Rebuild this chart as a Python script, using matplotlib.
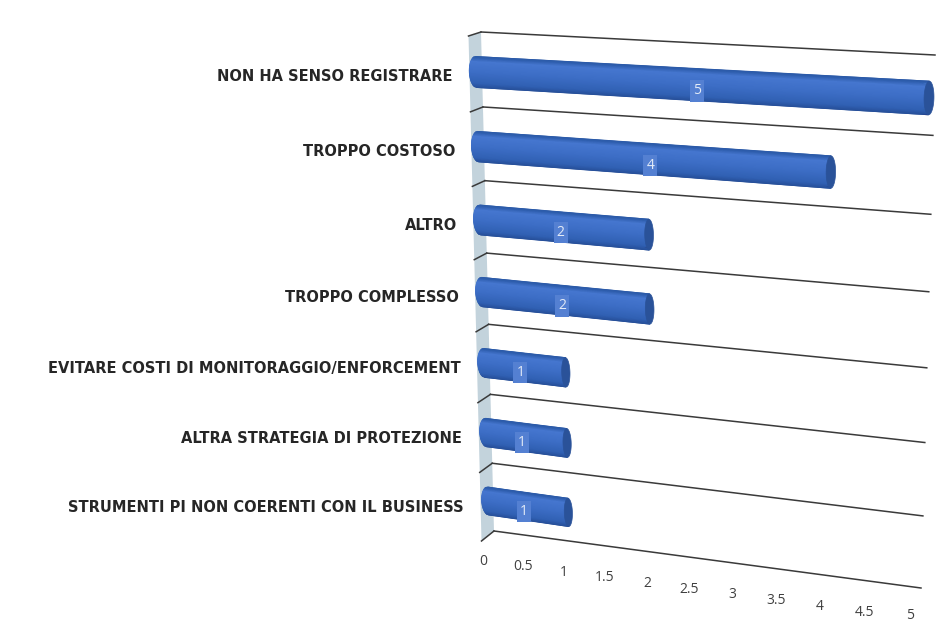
import numpy as np
import matplotlib
matplotlib.use("Agg")
import matplotlib.pyplot as plt
from matplotlib.colors import LinearSegmentedColormap
from matplotlib.transforms import Transform

# bottom row first, like the category axis
categories = ["STRUMENTI PI NON COERENTI CON IL BUSINESS",
              "ALTRA STRATEGIA DI PROTEZIONE",
              "EVITARE COSTI DI MONITORAGGIO/ENFORCEMENT",
              "TROPPO COMPLESSO",
              "ALTRO",
              "TROPPO COSTOSO",
              "NON HA SENSO REGISTRARE"]
values = [1, 1, 1, 2, 2, 4, 5]
ticks = [0, 0.5, 1, 1.5, 2, 2.5, 3, 3.5, 4, 4.5, 5]
tick_labels = ["0", "0.5", "1", "1.5", "2", "2.5", "3", "3.5", "4", "4.5", "5"]


class Plane(Transform):
    """Perspective map from (value, row) to picture pixels, fitted on 4 corners."""
    input_dims = 2
    output_dims = 2
    is_affine = False
    has_inverse = False

    def __init__(self, src, dst):
        super().__init__()
        a = []
        b = []
        for (u, v), (x, y) in zip(src, dst):
            a.append([u, v, 1, 0, 0, 0, -u * x, -v * x])
            a.append([0, 0, 0, u, v, 1, -u * y, -v * y])
            b += [x, y]
        self.h = np.append(np.linalg.solve(np.array(a, float), np.array(b, float)), 1).reshape(3, 3)

    def transform_non_affine(self, pts):
        pts = np.asarray(pts, float)
        q = np.column_stack([pts, np.ones(len(pts))]) @ self.h.T
        return q[:, :2] / q[:, 2:]


fig = plt.figure(figsize=(9.49, 6.23), dpi=100)
ax = fig.add_axes([0, 0, 1, 1])
ax.set_xlim(0, 949)
ax.set_ylim(623, 0)
ax.axis("off")
ax.set_autoscale_on(False)

vmax = ticks[-1]
n = len(categories)

# back wall plane (gridlines) and the plane running through the bar axes
back = Plane([(0, 0), (vmax, 0), (0, n), (vmax, n)],
             [(494, 531), (921, 588), (481, 32), (935, 55)])
mid = Plane([(0, 0.5), (vmax, 0.5), (0, n - 0.5), (vmax, n - 0.5)],
            [(488, 501), (917, 562), (476, 72), (929, 98)])
back_t = back + ax.transData
mid_t = mid + ax.transData


def wall_front(k):
    # the wall is a thin strip in front of the back plane
    x, y = back.transform_non_affine([(0, k)])[0]
    return x - 12.5, y + 10 - 6 * k / n


# wall
rows = np.arange(n + 1)
wall = [tuple(p) for p in back.transform_non_affine([(0, k) for k in rows])]
wall += [wall_front(k) for k in rows[::-1]]
ax.fill(*zip(*wall), color="#c3d3dc", lw=0, zorder=1)

# gridlines with their stub over the wall
for k in rows:
    fx, fy = wall_front(k)
    bx, by = back.transform_non_affine([(0, k)])[0]
    ax.plot([fx, bx], [fy, by], color="#3a3a3a", lw=1.1, zorder=2)
    ax.plot([0, vmax], [k, k], color="#3a3a3a", lw=1.1, zorder=2, transform=back_t)

shade = LinearSegmentedColormap.from_list("cyl", [(0, "#27509A"), (0.15, "#3161B4"), (0.5, "#3D6EC6"),
                                                  (0.85, "#4677D0"), (1, "#2B5AA8")])
half = 0.205
cap = 0.05
round_end = 0.08
t = np.linspace(-1, 1, 41)

for i, val in enumerate(values):
    k = i + 0.5
    # cylinder body, rounded on the wall side
    vv = np.column_stack([-round_end * np.sqrt(1 - t ** 2), np.full(len(t), val)])
    kk = np.column_stack([k + t * half, k + t * half])
    cc = np.column_stack([t, t])
    ax.pcolormesh(vv, kk, cc, shading="gouraud", cmap=shade, vmin=-1, vmax=1,
                  transform=mid_t, zorder=3 + i * 0.01)

    th = np.linspace(0, 2 * np.pi, 60)
    ax.fill(val + cap * np.cos(th), k + half * np.sin(th), color="#2A5299", lw=0.5,
            transform=mid_t, zorder=3 + i * 0.011)

    ax.annotate(str(val), (val * 0.525 - 0.08, k - 0.08), xycoords=mid_t, ha="center", va="center",
                fontsize=10, family="Open Sans", color="#e3ebf7", zorder=4,
                bbox=dict(facecolor="#5480D2", edgecolor="none", pad=2.2))

    ax.annotate(categories[i], (0, k), xycoords=back_t, xytext=(-29, -(10 - 0.5 * i)), textcoords="offset pixels",
                ha="right", va="center", fontsize=10.5, family="DejaVu Sans", weight="bold",
                color="#262626", zorder=5)

for tk, lab in zip(ticks, tick_labels):
    # last label sits right on the picture edge
    dy = -27 if tk == vmax else -30.5
    ax.annotate(lab, (tk, 0), xycoords=back_t, xytext=(-11, dy), textcoords="offset pixels",
                ha="center", va="center", fontsize=10, family="Open Sans", color="#404040",
                annotation_clip=False)

fig.savefig("out.png", dpi=100)
